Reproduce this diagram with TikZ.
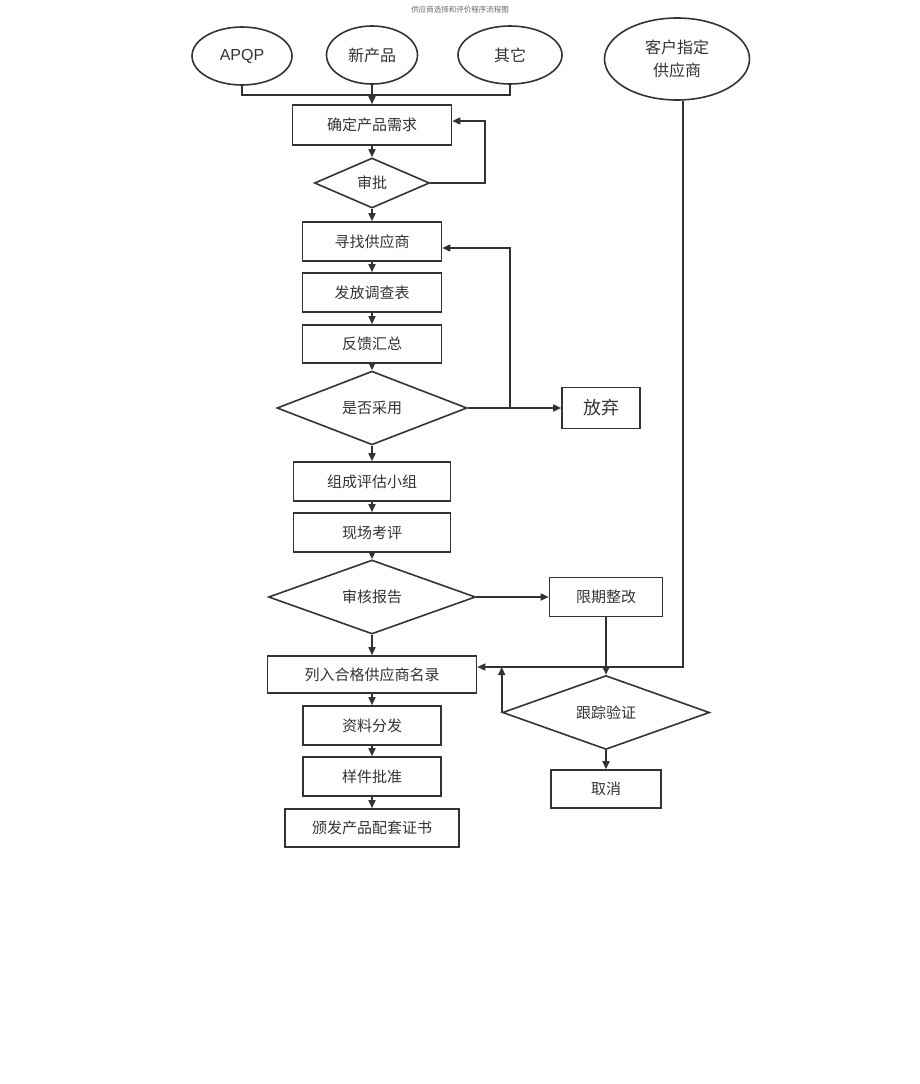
\documentclass[tikz,border=0pt]{standalone}
\usepackage{fontspec}
\setmainfont{Liberation Sans}
\newfontfamily\cjk{Noto Sans CJK SC}
\usetikzlibrary{arrows.meta,shapes,calc}

\begin{document}
\begin{tikzpicture}[x=1pt,y=-1pt,line width=1.6pt,color=black!80,
    >={Triangle[length=8pt,width=7pt]},
    box/.style={draw,rectangle,inner sep=0pt,font=\cjk\fontsize{15}{17}\selectfont},
    choice/.style={draw,diamond,inner sep=0pt,font=\cjk\fontsize{15}{17}\selectfont},
    oval/.style={draw,ellipse,inner sep=0pt,minimum height=58pt,font=\cjk\fontsize{16}{18}\selectfont}]
    \useasboundingbox (0,0) rectangle (920,1084);
    \node[font=\cjk\fontsize{7.5}{9}\selectfont,text=black!60] (title) at (460,10) {供应商选择和评价程序流程图};
    % sources
    \node[oval,minimum width=100pt,font=\fontsize{16}{18}\selectfont] (apqp) at (242,56) {APQP};
    \node[oval,minimum width=91pt] (xinchanpin) at (372,55) {新产品};
    \node[oval,minimum width=104pt] (qita) at (510,55) {其它};
    \node[oval,minimum width=145pt,minimum height=82pt,align=center] (kehu) at (677,59) {客户指定\\[5pt]供应商};
    % main column
    \node[box,minimum width=159pt,minimum height=40pt] (xuqiu) at (372,125) {确定产品需求};
    \node[choice,minimum width=115pt,minimum height=50pt] (shenpi) at (372,183) {审批};
    \node[box,minimum width=139pt,minimum height=39pt] (xunzhao) at (372,241.5) {寻找供应商};
    \node[box,minimum width=139pt,minimum height=39pt] (fafang) at (372,292.5) {发放调查表};
    \node[box,minimum width=139pt,minimum height=38pt] (fankui) at (372,344) {反馈汇总};
    \node[choice,minimum width=190pt,minimum height=63pt] (caiyong) at (372,408) {是否采用};
    \node[box,minimum width=78pt,minimum height=41pt,font=\cjk\fontsize{18}{20}\selectfont] (fangqi) at (601,408) {放弃};
    \node[box,minimum width=157pt,minimum height=39pt] (zucheng) at (372,481.5) {组成评估小组};
    \node[box,minimum width=157pt,minimum height=39pt] (xianchang) at (372,532.5) {现场考评};
    \node[choice,minimum width=207pt,minimum height=64pt] (shenhe) at (372,597) {审核报告};
    \node[box,minimum width=113pt,minimum height=39pt] (zhenggai) at (606,597) {限期整改};
    \node[box,minimum width=209pt,minimum height=37pt] (liru) at (372,674.5) {列入合格供应商名录};
    \node[choice,minimum width=207pt,minimum height=61pt] (genzong) at (606,712.5) {跟踪验证};
    \node[box,minimum width=110pt,minimum height=38pt] (quxiao) at (606,789) {取消};
    \node[box,minimum width=138pt,minimum height=39pt] (ziliao) at (372,725.5) {资料分发};
    \node[box,minimum width=138pt,minimum height=39pt] (yangjian) at (372,776.5) {样件批准};
    \node[box,minimum width=174pt,minimum height=38pt] (banfa) at (372,828) {颁发产品配套证书};
    % helper points
    \coordinate (join) at (372,95);
    \coordinate (back1) at (485,121);
    \coordinate (back2) at (510,248);
    \coordinate (kc) at (683,667);
    % connectors
    \draw (apqp.south) |- (join) -| (qita.south);
    \path [->] (xinchanpin.south) edge (xuqiu.north)
        (xuqiu) edge (shenpi) (shenpi) edge (xunzhao)
        (xunzhao) edge (fafang) (fafang) edge (fankui) (fankui) edge (caiyong)
        (caiyong) edge (zucheng) (zucheng) edge (xianchang) (xianchang) edge (shenhe)
        (shenhe) edge (liru) (liru) edge (ziliao) (ziliao) edge (yangjian) (yangjian) edge (banfa)
        (caiyong.east) edge (fangqi.west) (shenhe.east) edge (zhenggai.west)
        (zhenggai) edge (genzong) (genzong) edge (quxiao);
    \draw[->] (shenpi.east) -| (back1) -- (xuqiu.east |- back1);
    \draw[->] (back2 |- caiyong.east) -- (back2) -- (xunzhao.east |- back2);
    \draw[->] (kehu.south -| kc) -- (kc) -- (liru.east |- kc);
    \draw[->] (genzong.west) -- (genzong.west |- kc);
\end{tikzpicture}
\end{document}
